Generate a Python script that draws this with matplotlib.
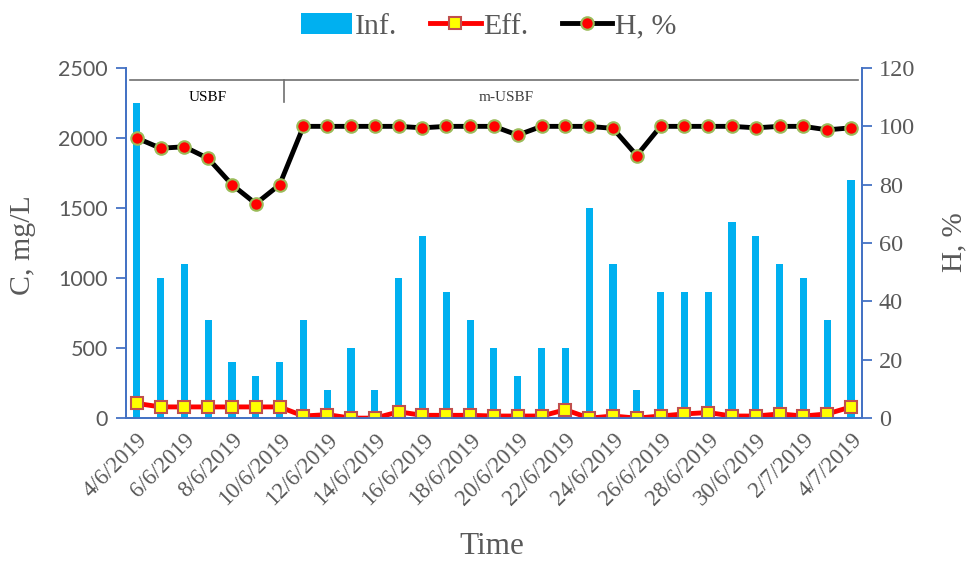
import matplotlib
import numpy as np

matplotlib.use("Agg")
import matplotlib.pyplot as plt

DATES = ["4/6/2019", "5/6/2019", "6/6/2019", "7/6/2019", "8/6/2019", "9/6/2019", "10/6/2019",
         "11/6/2019", "12/6/2019", "13/6/2019", "14/6/2019", "15/6/2019", "16/6/2019", "17/6/2019",
         "18/6/2019", "19/6/2019", "20/6/2019", "21/6/2019", "22/6/2019", "23/6/2019", "24/6/2019",
         "25/6/2019", "26/6/2019", "27/6/2019", "28/6/2019", "29/6/2019", "30/6/2019", "1/7/2019",
         "2/7/2019", "3/7/2019", "4/7/2019"]
INF = [2250, 1000, 1100, 700, 400, 300, 400, 700, 200, 500, 200, 1000, 1300, 900, 700, 500,
       300, 500, 500, 1500, 1100, 200, 900, 900, 900, 1400, 1300, 1100, 1000, 700, 1700]
EFF = [105, 80, 80, 80, 80, 80, 80, 15, 25, 0, 0, 45, 20, 20, 20, 15,
       15, 15, 60, 0, 15, 0, 15, 30, 40, 15, 15, 30, 15, 30, 80]
H = [96, 92.5, 93, 89, 80, 73.5, 80, 100, 100, 100, 100, 100, 99.5, 100, 100, 100,
     97, 100, 100, 100, 99.3, 90, 100, 100, 100, 100, 99.5, 100, 100, 98.8, 99.5]

GRAY = "#595959"
BLUE = "#4472C4"
plt.rcParams["font.family"] = ["Liberation Serif", "DejaVu Serif"]

x = np.arange(len(DATES))
fig = plt.figure(figsize=(9.68, 5.62), dpi=100)
ax = fig.add_axes([0.130, 0.256, 0.7605, 0.623])
ax2 = ax.twinx()

bars = ax.bar(x, INF, width=0.3, color="#00B0F0", label="Inf.", zorder=2)
eff, = ax.plot(x, EFF, color="#FF0000", lw=3.5, marker="s", ms=9, mfc="#FFFF00", mec="#C0504D",
               mew=1.5, label="Eff.", zorder=3)
hh, = ax2.plot(x, H, color="black", lw=3.5, marker="o", ms=9, mfc="#FF0000", mec="#9BBB59",
               mew=1.5, label="H, %", zorder=3)

ax.set_xlim(-0.46, len(DATES) - 0.54)
ax.set_ylim(0, 2500); ax2.set_ylim(0, 120)
ax.set_yticks(range(0, 2501, 500)); ax2.set_yticks(range(0, 121, 20))
ax.set_xticks(x[::2])
ax.set_xticklabels(DATES[::2], rotation=45, ha="right", rotation_mode="anchor")

for a in (ax, ax2):
    a.spines["top"].set_visible(False)
    for s in ("left", "right", "bottom"):
        a.spines[s].set_color(BLUE)
        a.spines[s].set_linewidth(1.3)
ax.tick_params(axis="y", colors=BLUE, labelcolor=GRAY, labelsize=15.5, length=7, width=1.3, pad=6)
for t in ax.get_yticklabels():
    t.set_fontfamily(["Lato", "DejaVu Sans"])
ax2.tick_params(axis="y", colors=BLUE, labelcolor=GRAY, labelsize=17.5, length=7, width=1.3, pad=5)
ax.tick_params(axis="x", length=0, labelcolor=GRAY, labelsize=16.5, pad=8)

# axis titles placed in axes coords so they sit where the reference has them
ax.set_ylabel("C, mg/L", color=GRAY, fontsize=21.5, va="center")
ax.yaxis.set_label_coords(-0.140, 0.494)
ax2.set_ylabel("H, %", color=GRAY, fontsize=21, va="center")
ax2.yaxis.set_label_coords(1.125, 0.503)
ax.set_xlabel("Time", color=GRAY, fontsize=22.5, va="center")
ax.xaxis.set_label_coords(0.497, -0.367)

# stage markers: USBF / m-USBF
ax.axhline(2415, xmin=0.005, xmax=0.995, color="#707070", lw=1.2, zorder=1)
ax.plot([6.2, 6.2], [2415, 2255], color="#707070", lw=1.2, zorder=1)
ax.text(3, 2290, "USBF", ha="center", va="center", fontsize=11, color="black")
ax.text(15.5, 2290, "m-USBF", ha="center", va="center", fontsize=11, color="#404040")

fig.legend([bars, eff, hh], ["Inf.", "Eff.", "H, %"], loc="center", bbox_to_anchor=(0.505, 0.953),
           ncol=3, frameon=False, fontsize=21.5, labelcolor=GRAY, handlelength=1.7,
           columnspacing=1.1, handletextpad=0.1)

fig.savefig("out.png", dpi=100)
